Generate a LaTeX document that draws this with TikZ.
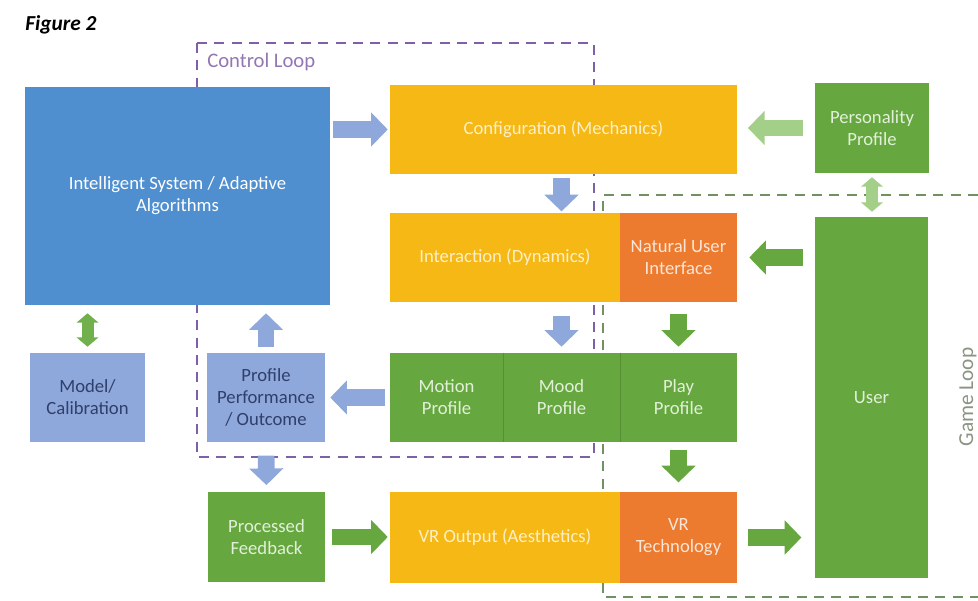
\documentclass[tikz,border=0pt]{standalone}
\usepackage{fontspec}
\setmainfont{Carlito}
\usetikzlibrary{arrows.meta}
\definecolor{isblue}{HTML}{4F8FCF}
\definecolor{gold}{HTML}{F5B814}
\definecolor{orng}{HTML}{EC7B2F}
\definecolor{grn}{HTML}{66A83F}
\definecolor{lblue}{HTML}{8FA8DC}
\definecolor{navy}{HTML}{2F3F6A}
\definecolor{lgrn}{HTML}{A3CF88}
\definecolor{purp}{HTML}{7F5FA5}
\definecolor{loopgrn}{HTML}{6F9260}
\definecolor{looptxt}{HTML}{8A9482}
\definecolor{txtgold}{HTML}{FDF0C8}
\definecolor{txtgrn}{HTML}{E2F0D9}
\definecolor{txtorng}{HTML}{FBE5D6}
\tikzset{
  base/.style={inner sep=0pt, draw=none, align=center, font=\fontsize{14}{16.5}\selectfont},
  wh/.style 2 args={minimum width=#1*0.75pt, minimum height=#2*0.75pt},
  bluebox/.style={base, fill=isblue, text=white},
  goldbox/.style={base, fill=gold, text=txtgold},
  orngbox/.style={base, fill=orng, text=txtorng},
  grnbox/.style={base, fill=grn, text=txtgrn},
  lbluebox/.style={base, fill=lblue, text=navy},
  barrow/.style={line width=12.5pt, -{Triangle[width=25pt,length=12.5pt]}},
  dbarrow/.style={line width=9pt, {Triangle[width=16pt,length=7pt]}-{Triangle[width=16pt,length=7pt]}},
  ctrlloop/.style={draw=purp, line width=2.2pt, dash pattern=on 7.5pt off 5.5pt},
  gameloop/.style={draw=loopgrn, line width=2.2pt, dash pattern=on 7.5pt off 5.5pt}
}
\begin{document}
\begin{tikzpicture}[x=0.75pt,y=-0.75pt]
\useasboundingbox (0,0) rectangle (978,600);
% title
\node[anchor=west, inner sep=0pt, font=\fontsize{16}{18}\selectfont\bfseries\itshape] (title) at (25,25) {Figure 2};
% loops
\draw[ctrlloop] (197,43) rectangle (594,457);
\node[anchor=west, inner sep=0pt, text=purp!85, font=\fontsize{15.5}{18}\selectfont] (ctrl) at (207,62) {Control Loop};
\draw[gameloop] (978,195) -- (603,195) -- (603,597) -- (978,597);
\node[rotate=90, inner sep=0pt, text=looptxt, font=\fontsize{16}{18}\selectfont] (game) at (968,397) {Game Loop};
% boxes
\node[bluebox, wh={305}{218}] (is) at (177.5,196) {Intelligent System / Adaptive\\Algorithms};
\node[goldbox, wh={347}{89}] (config) at (563.5,129.5) {Configuration (Mechanics)};
\node[grnbox, wh={114}{90}] (pers) at (872,128) {Personality\\Profile};
\node[goldbox, wh={230}{89}] (inter) at (505,257.5) {Interaction (Dynamics)};
\node[orngbox, wh={117}{89}] (nui) at (678.5,257.5) {Natural User\\Interface};
\node[grnbox, wh={113}{361}] (user) at (871.5,397.5) {User};
\node[lbluebox, wh={115}{89}] (model) at (87.5,397.5) {Model/\\Calibration};
\node[lbluebox, wh={118}{89}] (pp) at (266,397.5) {Profile\\Performance\\/ Outcome};
\node[grnbox, wh={113}{89}] (motion) at (446.5,397.5) {Motion\\Profile};
\node[grnbox, wh={117}{89}] (mood) at (561.5,397.5) {Mood\\Profile};
\node[grnbox, wh={117}{89}] (play) at (678.5,397.5) {Play\\Profile};
\draw[grn!85!black, line width=0.6pt] (motion.north east) -- (motion.south east);
\draw[grn!85!black, line width=0.6pt] (mood.north east) -- (mood.south east);
\node[grnbox, wh={117}{90}] (proc) at (266.5,537) {Processed\\Feedback};
\node[goldbox, wh={230}{91}] (vrout) at (505,537.5) {VR Output (Aesthetics)};
\node[orngbox, wh={117}{91}] (vrtech) at (678.5,537.5) {VR\\Technology};
% arrows
\draw[barrow, lblue, shorten <=2pt, shorten >=1.5pt] (is.east |- config.west) -- (config.west);
\draw[barrow, lgrn, shorten <=9pt, shorten >=8pt] (pers.west) -- (config.east |- pers.west);
\draw[barrow, lblue, shorten <=3pt, shorten >=1pt] (config.south -| mood.north) -- (inter.north -| mood.north);
\draw[dbarrow, lgrn, shorten <=3pt, shorten >=3.75pt] (pers.south) -- (user.north -| pers.south);
\draw[barrow, grn, shorten <=9pt, shorten >=9pt] (user.west |- nui.east) -- (nui.east);
\draw[barrow, lblue, shorten <=10pt, shorten >=4.5pt] (inter.south -| mood.north) -- (mood.north);
\draw[barrow, grn, shorten <=8.5pt, shorten >=4.5pt] (nui.south) -- (play.north);
\draw[barrow, lblue, shorten <=3.75pt, shorten >=3.75pt] (motion.west) -- (pp.east);
\draw[barrow, lblue, shorten <=4.5pt, shorten >=6pt] (pp.north) -- (is.south -| pp.north);
\draw[dbarrow, grn!80!lgrn, shorten <=6pt, shorten >=4.5pt] (is.south -| model.north) -- (model.north);
\draw[barrow, lblue, shorten <=10pt, shorten >=5pt] (pp.south) -- (proc.north);
\draw[barrow, grn, shorten <=6pt, shorten >=7pt] (play.south) -- (vrtech.north);
\draw[barrow, grn, shorten <=5pt, shorten >=1.5pt] (proc.east) -- (proc.east -| vrout.west);
\draw[barrow, grn, shorten <=8pt, shorten >=10pt] (vrtech.east) -- (vrtech.east -| user.west);
\end{tikzpicture}
\end{document}
